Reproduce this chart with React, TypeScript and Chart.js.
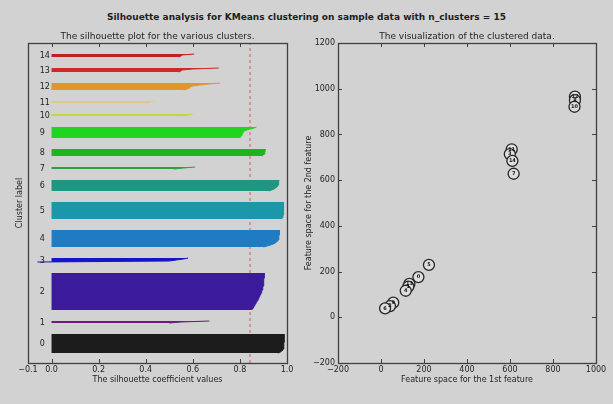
import React, { useEffect, useRef } from 'react';
import { Chart, registerables } from 'chart.js';
Chart.register(...registerables);

const FONT = "'DejaVu Sans', 'Liberation Sans', sans-serif";

// ---- Silhouette values per cluster (sorted ascending) ----
const silhouette0 = [0.962, 0.972, 0.978, 0.982, 0.984, 0.985, 0.986, 0.986, 0.987, 0.987, 0.987, 0.988, 0.988, 0.988, 0.988, 0.988, 0.989, 0.989, 0.989, 0.989];
const silhouette1 = [0.5, 0.55, 0.67];
const silhouette2 = [0.85, 0.853, 0.856, 0.858, 0.86, 0.863, 0.866, 0.868, 0.871, 0.874, 0.876, 0.878, 0.88, 0.882, 0.884, 0.886, 0.888, 0.89, 0.892, 0.893, 0.895, 0.896, 0.897, 0.898, 0.899, 0.9, 0.9, 0.901, 0.901, 0.902, 0.902, 0.902, 0.903, 0.903, 0.903, 0.904, 0.904, 0.905];
const silhouette3 = [-0.06, 0.5, 0.53, 0.56, 0.58];
const silhouette4 = [0.9, 0.915, 0.93, 0.942, 0.95, 0.956, 0.96, 0.962, 0.964, 0.965, 0.966, 0.966, 0.967, 0.967, 0.968, 0.968, 0.968, 0.969];
const silhouette5 = [0.975, 0.98, 0.982, 0.983, 0.984, 0.985, 0.985, 0.985, 0.985, 0.985, 0.985, 0.985, 0.985, 0.986, 0.986, 0.986, 0.986, 0.986];
const silhouette6 = [0.925, 0.935, 0.945, 0.952, 0.957, 0.96, 0.962, 0.963, 0.964, 0.965, 0.966, 0.967];
const silhouette7 = [0.52, 0.56, 0.61];
const silhouette8 = [0.895, 0.9, 0.903, 0.905, 0.906, 0.907, 0.907, 0.908];
const silhouette9 = [0.8, 0.802, 0.805, 0.808, 0.81, 0.812, 0.815, 0.82, 0.83, 0.845, 0.86, 0.87];
const silhouette10 = [0.56, 0.58, 0.6];
const silhouette11 = [0.4, 0.42, 0.437];
const silhouette12 = [0.56, 0.575, 0.585, 0.59, 0.6, 0.63, 0.67, 0.716];
const silhouette13 = [0.54, 0.55, 0.555, 0.6, 0.71];
const silhouette14 = [0.54, 0.55, 0.555, 0.606];

const silhouetteValues = [
  silhouette0, silhouette1, silhouette2, silhouette3, silhouette4,
  silhouette5, silhouette6, silhouette7, silhouette8, silhouette9,
  silhouette10, silhouette11, silhouette12, silhouette13, silhouette14,
];

const clusterColors = [
  '#1c1c1c', '#701a80', '#3b1a9c', '#1414c8', '#1f7cc2',
  '#1a97a8', '#1f9682', '#2e9e40', '#1db41d', '#22d422',
  '#c2d448', '#dccb7a', '#e0962a', '#cc2a2a', '#c02222',
];

const silhouetteAvg = 0.843;
const silhouetteXTicks = [-0.1, 0.0, 0.2, 0.4, 0.6, 0.8, 1.0];

// ---- Cluster centers (right panel) ----
const centerLabels = ['5', '0', '13', '1', '4', '9', '2', '6', '11', '3', '14', '7', '12', '8', '10'];
const centerX = [223, 174, 132, 127, 115, 57, 42, 19, 608, 599, 611, 617, 902, 902, 900];
const centerY = [229, 176, 146, 134, 116, 64, 49, 39, 735, 714, 684, 628, 965, 950, 921];
const featureXTicks = [-200, 0, 200, 400, 600, 800, 1000];
const featureYTicks = [-200, 0, 200, 400, 600, 800, 1000, 1200];

const TEXT = '#1e1e1e';
const FRAME = '#404040';

const fmtMinus = (s: string) => s.replace('-', '\u2212');

function framePlugin(xTicks: number[], yTicks: number[], title: string) {
  return {
    id: 'frameTicks',
    afterDraw(chart: any) {
      const { ctx, chartArea, scales } = chart;
      const { left, right, top, bottom } = chartArea;
      ctx.save();
      ctx.strokeStyle = FRAME;
      ctx.lineWidth = 1;
      ctx.beginPath();
      for (const v of xTicks) {
        const px = Math.round(scales.x.getPixelForValue(v)) + 0.5;
        ctx.moveTo(px, bottom);
        ctx.lineTo(px, bottom - 4);
        ctx.moveTo(px, top);
        ctx.lineTo(px, top + 4);
      }
      for (const v of yTicks) {
        const py = Math.round(scales.y.getPixelForValue(v)) + 0.5;
        ctx.moveTo(left, py);
        ctx.lineTo(left + 4, py);
        ctx.moveTo(right, py);
        ctx.lineTo(right - 4, py);
      }
      ctx.stroke();
      ctx.lineWidth = 1.3;
      ctx.strokeRect(Math.round(left) + 0.5, Math.round(top) + 0.5, Math.round(right - left), Math.round(bottom - top));
      // axes title, centred over the plot area
      ctx.fillStyle = TEXT;
      ctx.font = `9px ${FONT}`;
      ctx.textAlign = 'center';
      ctx.textBaseline = 'middle';
      ctx.fillText(title, (left + right) / 2, top - 6);
      ctx.restore();
    },
  };
}

export default function App() {
  const leftRef = useRef<HTMLCanvasElement>(null);
  const rightRef = useRef<HTMLCanvasElement>(null);

  useEffect(() => {
    document.body.style.margin = '0';

    // band placement as in the matplotlib silhouette example
    let yLower = 10;
    const bands = silhouetteValues.map((vals) => {
      const start = yLower;
      yLower += vals.length + 10;
      return { start, vals };
    });
    const total = silhouetteValues.reduce((a, v) => a + v.length, 0);
    const yMax = total + (silhouetteValues.length + 1) * 10;

    const bandDatasets: any[] = bands.map((b, i) => ({
      data: b.vals.map((v, k) => ({ x: v, y: b.start + k })),
      borderColor: clusterColors[i],
      backgroundColor: clusterColors[i],
      borderWidth: 1,
      pointRadius: 0,
      fill: 'origin',
      tension: 0,
    }));
    bandDatasets.push({
      data: [{ x: silhouetteAvg, y: 0 }, { x: silhouetteAvg, y: yMax }],
      borderColor: '#e06a6a',
      borderDash: [3, 3],
      borderWidth: 1.2,
      pointRadius: 0,
      fill: false,
    });

    const labelPlugin = {
      id: 'clusterLabels',
      afterDatasetsDraw(chart: any) {
        const { ctx, scales } = chart;
        ctx.save();
        ctx.fillStyle = TEXT;
        ctx.font = `8px ${FONT}`;
        ctx.textAlign = 'left';
        ctx.textBaseline = 'alphabetic';
        bands.forEach((b, i) => {
          const px = scales.x.getPixelForValue(-0.05);
          const py = scales.y.getPixelForValue(b.start + 0.5 * b.vals.length);
          ctx.fillText(String(i), px, py + 3);
        });
        ctx.restore();
      },
    };

    const left = new Chart(leftRef.current!, {
      type: 'line',
      data: { datasets: bandDatasets },
      options: {
        indexAxis: 'y',
        animation: false,
        responsive: false,
        layout: { padding: { left: 0, right: 13, top: 43, bottom: 0 } },
        plugins: {
          legend: { display: false },
          tooltip: { enabled: false },
          title: { display: false },
        },
        scales: {
          x: {
            type: 'linear',
            position: 'bottom',
            min: -0.1,
            max: 1.0,
            afterBuildTicks: (s: any) => { s.ticks = silhouetteXTicks.map((v) => ({ value: v })); },
            afterFit: (s: any) => { s.height = 41; },
            grid: { display: false, drawTicks: false },
            border: { display: false },
            ticks: {
              autoSkip: false,
              maxRotation: 0,
              padding: 2,
              color: TEXT,
              font: { family: FONT, size: 8 },
              callback: (v: any) => fmtMinus(Number(v).toFixed(1)),
            },
            title: {
              display: true,
              text: 'The silhouette coefficient values',
              color: TEXT,
              font: { family: FONT, size: 8 },
              padding: { top: 0, bottom: 19.2 },
            },
          },
          y: {
            type: 'linear',
            min: 0,
            max: yMax,
            afterFit: (s: any) => { s.width = 28; },
            grid: { display: false, drawTicks: false },
            border: { display: false },
            ticks: { display: false },
            title: {
              display: true,
              text: 'Cluster label',
              color: TEXT,
              font: { family: FONT, size: 8 },
              padding: { top: 15.2, bottom: 0 },
            },
          },
        },
      } as any,
      plugins: [labelPlugin, framePlugin(silhouetteXTicks, [], 'The silhouette plot for the various clusters.')],
    });

    const centerLabelPlugin = {
      id: 'centerLabels',
      afterDatasetsDraw(chart: any) {
        const { ctx, scales } = chart;
        ctx.save();
        ctx.fillStyle = '#111';
        ctx.font = `bold 5px ${FONT}`;
        ctx.textAlign = 'center';
        ctx.textBaseline = 'middle';
        centerLabels.forEach((lab, i) => {
          ctx.fillText(lab, scales.x.getPixelForValue(centerX[i]), scales.y.getPixelForValue(centerY[i]));
        });
        ctx.restore();
      },
    };

    const right = new Chart(rightRef.current!, {
      type: 'scatter',
      data: {
        datasets: [{
          data: centerX.map((x, i) => ({ x, y: centerY[i] })),
          pointRadius: 5.5,
          pointBackgroundColor: '#dedede',
          pointBorderColor: '#262626',
          pointBorderWidth: 1.3,
        }],
      },
      options: {
        animation: false,
        responsive: false,
        layout: { padding: { left: 0, right: 17, top: 43, bottom: 0 } },
        plugins: {
          legend: { display: false },
          tooltip: { enabled: false },
          title: { display: false },
        },
        scales: {
          x: {
            type: 'linear',
            min: -200,
            max: 1000,
            afterBuildTicks: (s: any) => { s.ticks = featureXTicks.map((v) => ({ value: v })); },
            afterFit: (s: any) => { s.height = 41; },
            grid: { display: false, drawTicks: false },
            border: { display: false },
            ticks: {
              autoSkip: false,
              maxRotation: 0,
              padding: 2,
              color: TEXT,
              font: { family: FONT, size: 8 },
              callback: (v: any) => fmtMinus(String(v)),
            },
            title: {
              display: true,
              text: 'Feature space for the 1st feature',
              color: TEXT,
              font: { family: FONT, size: 8 },
              padding: { top: 0, bottom: 19.2 },
            },
          },
          y: {
            type: 'linear',
            min: -200,
            max: 1200,
            afterBuildTicks: (s: any) => { s.ticks = featureYTicks.map((v) => ({ value: v })); },
            afterFit: (s: any) => { s.width = 38; },
            grid: { display: false, drawTicks: false },
            border: { display: false },
            ticks: {
              autoSkip: false,
              padding: 3,
              color: TEXT,
              font: { family: FONT, size: 8 },
              callback: (v: any) => fmtMinus(String(v)),
            },
            title: {
              display: true,
              text: 'Feature space for the 2nd feature',
              color: TEXT,
              font: { family: FONT, size: 8 },
              padding: { top: 4, bottom: 0 },
            },
          },
        },
      } as any,
      plugins: [centerLabelPlugin, framePlugin(featureXTicks, featureYTicks, 'The visualization of the clustered data.')],
    });

    return () => {
      left.destroy();
      right.destroy();
    };
  }, []);

  return (
    <div style={{ position: 'relative', width: 613, height: 404, background: '#d2d2d2', fontFamily: FONT, overflow: 'hidden' }}>
      <div style={{ position: 'absolute', left: 0, top: 11, width: 613, textAlign: 'center', fontWeight: 'bold', fontSize: 9, lineHeight: '12px', color: TEXT }}>
        Silhouette analysis for KMeans clustering on sample data with n_clusters = 15
      </div>
      <canvas ref={leftRef} width={300} height={404} style={{ position: 'absolute', left: 0, top: 0 }} />
      <canvas ref={rightRef} width={313} height={404} style={{ position: 'absolute', left: 300, top: 0 }} />
    </div>
  );
}
